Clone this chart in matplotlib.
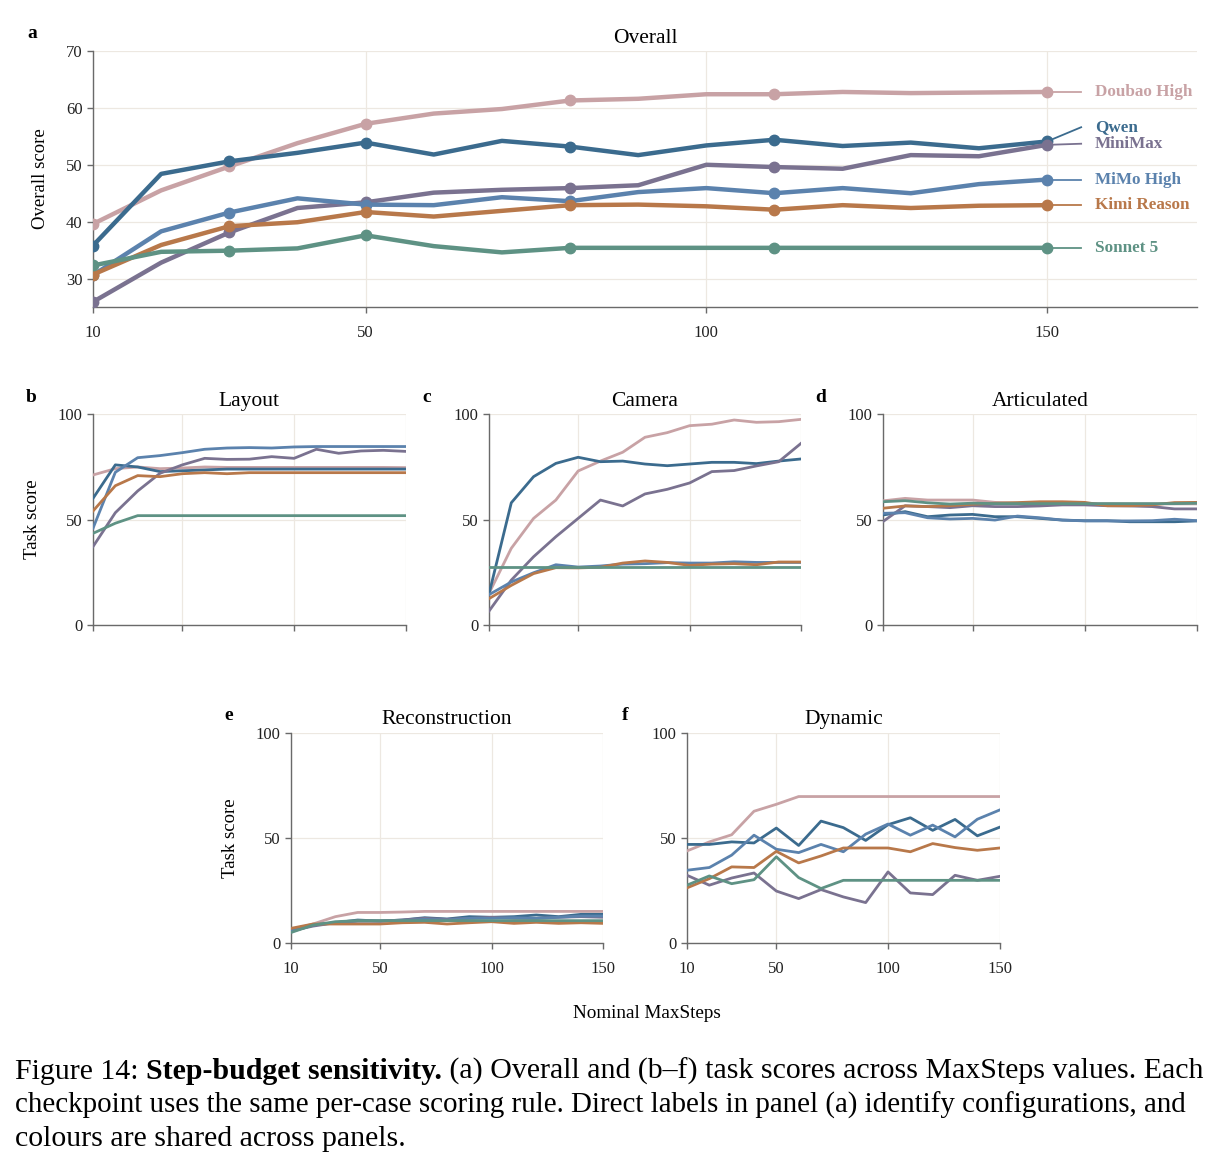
import numpy as np
import matplotlib
matplotlib.use("Agg")
import matplotlib.pyplot as plt

plt.rcParams['font.family'] = ['Liberation Serif', 'DejaVu Serif']

steps = [10, 20, 30, 40, 50, 60, 70, 80, 90, 100, 110, 120, 130, 140, 150]
models = ["Doubao High", "Qwen", "MiniMax", "MiMo High", "Kimi Reason", "Sonnet 5"]
colors = ["#c8a2a5", "#3b6b8e", "#7a7290", "#5b82ad", "#b8784a", "#5e9284"]

overall = {
    "Doubao High": [39.6, 45.5, 49.7, 53.8, 57.2, 59.0, 59.8, 61.3, 61.6, 62.4, 62.4, 62.8, 62.6, 62.7, 62.8],
    "Qwen":        [35.8, 48.4, 50.6, 52.1, 53.9, 51.8, 54.2, 53.2, 51.7, 53.4, 54.4, 53.3, 53.9, 52.9, 54.1],
    "MiniMax":     [25.9, 32.8, 38.1, 42.4, 43.4, 45.1, 45.6, 45.9, 46.4, 50.0, 49.6, 49.3, 51.7, 51.5, 53.5],
    "MiMo High":   [30.6, 38.3, 41.6, 44.1, 43.0, 42.9, 44.3, 43.6, 45.2, 45.9, 45.0, 45.9, 45.0, 46.6, 47.4],
    "Kimi Reason": [30.7, 35.9, 39.2, 39.9, 41.7, 40.9, 41.9, 42.9, 43.0, 42.7, 42.1, 42.9, 42.4, 42.8, 42.9],
    "Sonnet 5":    [32.3, 34.7, 34.9, 35.3, 37.6, 35.7, 34.6, 35.4, 35.4, 35.4, 35.4, 35.4, 35.4, 35.4, 35.4],
}

layout = {
    "Doubao High": [71.2, 74.2, 75.0, 74.2, 74.5, 75.0, 74.8, 74.8, 74.8, 74.8, 74.8, 74.8, 74.8, 74.8, 74.7],
    "Qwen":        [60.1, 76.0, 75.0, 72.8, 73.2, 73.6, 74.0, 74.0, 74.0, 74.0, 74.0, 74.0, 74.0, 74.0, 74.0],
    "MiniMax":     [37.2, 53.3, 63.6, 72.0, 76.0, 79.1, 78.6, 78.7, 79.9, 79.1, 83.4, 81.5, 82.6, 82.9, 82.4],
    "MiMo High":   [45.9, 72.5, 79.4, 80.4, 81.8, 83.4, 84.0, 84.2, 84.0, 84.5, 84.7, 84.7, 84.7, 84.7, 84.7],
    "Kimi Reason": [54.1, 66.1, 70.9, 70.4, 71.8, 72.3, 71.8, 72.3, 72.3, 72.3, 72.3, 72.3, 72.3, 72.3, 72.3],
    "Sonnet 5":    [43.5, 48.3, 51.9, 51.9, 51.9, 51.9, 51.9, 51.9, 51.9, 51.9, 51.9, 51.9, 51.9, 51.9, 51.9],
}

camera = {
    "Doubao High": [15.0, 36.4, 50.6, 59.3, 73.1, 77.8, 82.0, 89.1, 91.3, 94.6, 95.3, 97.3, 96.2, 96.5, 97.6],
    "Qwen":        [14.7, 58.0, 70.4, 76.7, 79.6, 77.5, 77.8, 76.4, 75.6, 76.4, 77.2, 77.2, 76.6, 77.8, 78.8],
    "MiniMax":     [6.6, 21.3, 32.4, 41.9, 50.6, 59.3, 56.5, 62.2, 64.4, 67.4, 72.8, 73.3, 75.5, 77.5, 86.2],
    "MiMo High":   [14.4, 20.4, 24.8, 28.6, 27.5, 28.0, 28.9, 29.1, 29.6, 29.4, 29.4, 30.0, 29.7, 29.7, 29.7],
    "Kimi Reason": [12.5, 18.8, 24.4, 27.2, 27.1, 27.4, 29.4, 30.4, 29.7, 28.3, 28.9, 29.1, 28.6, 29.9, 29.9],
    "Sonnet 5":    [27.5, 27.5, 27.5, 27.5, 27.5, 27.5, 27.5, 27.5, 27.5, 27.5, 27.5, 27.5, 27.5, 27.5, 27.5],
}

articulated = {
    "Doubao High": [58.9, 60.1, 59.3, 59.3, 59.3, 58.2, 57.8, 57.8, 57.8, 57.6, 57.6, 57.5, 57.5, 57.5, 57.5],
    "Qwen":        [52.2, 53.8, 51.4, 52.2, 52.5, 51.4, 51.4, 50.6, 49.8, 49.5, 49.5, 49.0, 49.0, 49.0, 49.4],
    "MiniMax":     [49.0, 56.6, 56.2, 55.7, 56.6, 56.2, 56.2, 56.5, 57.0, 57.0, 56.6, 56.5, 56.2, 55.1, 55.1],
    "MiMo High":   [53.0, 53.3, 50.9, 50.3, 50.6, 49.8, 51.7, 50.9, 49.8, 49.4, 49.4, 49.4, 49.5, 50.2, 49.5],
    "Kimi Reason": [55.4, 56.5, 56.2, 56.6, 57.3, 57.8, 58.1, 58.5, 58.5, 58.2, 56.6, 56.6, 57.0, 58.1, 58.2],
    "Sonnet 5":    [58.5, 59.0, 58.0, 57.4, 57.8, 57.6, 57.6, 57.6, 57.6, 57.6, 57.6, 57.6, 57.6, 57.6, 57.8],
}

reconstruction = {
    "Doubao High": [6.0, 8.9, 12.4, 14.4, 14.4, 14.6, 14.9, 14.9, 14.9, 14.9, 14.9, 14.9, 14.9, 14.9, 14.9],
    "Qwen":        [5.2, 8.4, 9.5, 10.8, 10.3, 10.8, 11.9, 11.3, 12.4, 12.1, 12.4, 13.2, 12.4, 13.5, 13.5],
    "MiniMax":     [5.6, 7.9, 9.5, 10.3, 10.3, 10.8, 11.6, 11.1, 11.6, 12.1, 11.6, 11.6, 12.1, 12.4, 12.1],
    "MiMo High":   [5.6, 8.4, 9.5, 10.3, 10.3, 10.5, 11.1, 10.8, 11.6, 11.6, 11.9, 11.6, 12.1, 12.7, 12.7],
    "Kimi Reason": [6.8, 8.9, 8.9, 8.9, 8.9, 9.5, 9.7, 8.9, 9.5, 10.0, 9.2, 9.7, 9.2, 9.5, 9.2],
    "Sonnet 5":    [4.8, 8.4, 10.0, 10.5, 10.5, 10.5, 10.5, 10.5, 10.5, 10.5, 10.5, 10.5, 10.5, 10.5, 10.5],
}

dynamic = {
    "Doubao High": [43.7, 48.0, 51.4, 62.6, 65.9, 69.6, 69.6, 69.6, 69.6, 69.6, 69.6, 69.6, 69.6, 69.6, 69.6],
    "Qwen":        [46.8, 46.8, 48.0, 47.5, 54.6, 46.3, 57.9, 54.8, 48.7, 56.2, 59.5, 53.5, 58.7, 50.9, 55.0],
    "MiniMax":     [32.1, 27.4, 30.8, 33.2, 24.6, 21.0, 25.3, 21.8, 19.1, 33.7, 23.7, 22.9, 32.1, 29.7, 31.6],
    "MiMo High":   [34.5, 35.8, 41.7, 51.2, 44.5, 42.9, 46.8, 43.3, 51.7, 56.5, 51.2, 56.0, 50.4, 58.8, 63.2],
    "Kimi Reason": [26.1, 30.5, 36.1, 35.8, 43.5, 38.0, 41.3, 45.1, 45.1, 45.1, 43.3, 47.2, 45.3, 44.0, 45.1],
    "Sonnet 5":    [27.4, 31.8, 28.1, 30.0, 40.9, 31.0, 25.8, 29.7, 29.7, 29.7, 29.7, 29.7, 29.7, 29.7, 29.7],
}

# nudges for the direct labels in panel (a)
label_shift = {"Qwen": 2.5, "MiniMax": 0.2}
marker_steps = [10, 30, 50, 80, 110, 150]

W, H = 1219, 1171
GRID = "#ede8e1"
SPINE = "#6a6a6a"


def box(l, r, t, b):
    return [l / W, 1 - b / H, (r - l) / W, (b - t) / H]


def style(ax):
    for s in ("top", "right"):
        ax.spines[s].set_visible(False)
    for s in ("left", "bottom"):
        ax.spines[s].set_color(SPINE)
        ax.spines[s].set_linewidth(1.0)
    ax.grid(True, color=GRID, linewidth=0.9)
    ax.set_axisbelow(True)
    ax.tick_params(colors=SPINE, labelcolor="#222222", labelsize=12, length=4, width=1.0)
    ax.tick_params(axis="x", pad=9)


fig = plt.figure(figsize=(W / 100, H / 100), dpi=100)

# panel a
ax = fig.add_axes(box(93, 1197, 51, 307))
style(ax)
idx = [steps.index(s) for s in marker_steps]
for m, c in zip(models, colors):
    ax.plot(steps, overall[m], color=c, lw=3.2, marker="o", ms=7.5, markevery=idx,
            solid_capstyle="round", zorder=3)
    y_end = overall[m][-1]
    y_lab = y_end + label_shift.get(m, 0)
    ax.plot([150, 155], [y_end, y_lab], color=c, lw=1.3, zorder=2)
    ax.text(157, y_lab, m, color=c, fontsize=12.3, fontweight="bold", va="center", ha="left")
ax.set_xlim(10, 172)
ax.set_ylim(25, 70)
ax.set_xticks([10, 50, 100, 150])
ax.set_yticks([30, 40, 50, 60, 70])
ax.set_ylabel("Overall score", fontsize=13.5, labelpad=12)
ax.set_title("Overall", fontsize=15.5, pad=6)
fig.text(32 / W, 1 - 33 / H, "a", fontsize=14, fontweight="bold", va="center", ha="center")

panels = [
    ("b", "Layout", layout, (93, 405.7, 414.3, 625), False, True),
    ("c", "Camera", camera, (489, 801, 414.3, 625), False, False),
    ("d", "Articulated", articulated, (882.7, 1197, 414.3, 625), False, False),
    ("e", "Reconstruction", reconstruction, (290.7, 603.3, 732.7, 942.7), True, True),
    ("f", "Dynamic", dynamic, (687, 999.7, 732.7, 942.7), True, False),
]

for letter, title, data, (l, r, t, b), xlab, ylab in panels:
    ax = fig.add_axes(box(l, r, t, b))
    style(ax)
    for m, c in zip(models, colors):
        ax.plot(steps, data[m], color=c, lw=2.0, zorder=3)
    ax.set_xlim(10, 150)
    ax.set_ylim(0, 100)
    ax.set_xticks([10, 50, 100, 150])
    ax.set_yticks([0, 50, 100])
    if not xlab:
        ax.tick_params(axis="x", labelbottom=False)
    if ylab:
        ax.set_ylabel("Task score", fontsize=13.5, labelpad=12)
    ax.set_title(title, fontsize=15.5, pad=6)
    fig.text((l - 62) / W, 1 - (t - 17) / H, letter, fontsize=14, fontweight="bold",
             va="center", ha="center")

fig.text(647 / W, 1 - 1013 / H, "Nominal MaxSteps", fontsize=13.8, ha="center", va="center")

# caption
x0 = 15 / W
t1 = fig.text(x0, 1 - 1085 / H, "Figure 14: ", fontsize=21.5, va="bottom")
t2 = plt.annotate("Step-budget sensitivity.", xy=(1, 0), xycoords=t1, fontsize=21.5,
                  fontweight="bold", va="bottom", annotation_clip=False)
plt.annotate(" (a) Overall and (b\u2013f) task scores across MaxSteps values. Each",
             xy=(1, 0), xycoords=t2, fontsize=21.5, va="bottom", annotation_clip=False)
fig.text(x0, 1 - 1119 / H, "checkpoint uses the same per-case scoring rule. Direct labels in panel (a) identify configurations, and",
         fontsize=20.9, va="bottom")
fig.text(x0, 1 - 1152 / H, "colours are shared across panels.", fontsize=21.5, va="bottom")

plt.savefig("out.png", dpi=100)
